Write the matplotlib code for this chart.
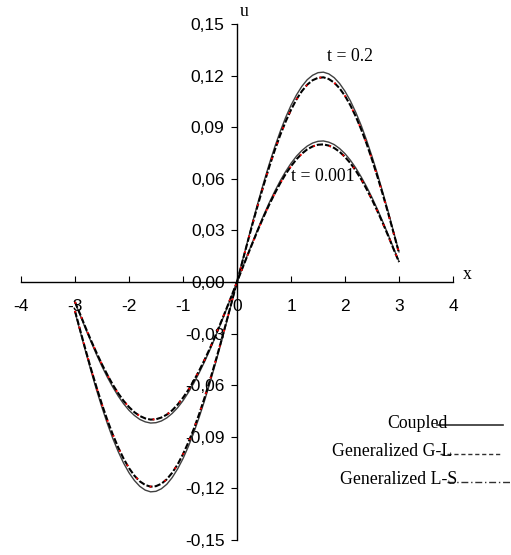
import numpy as np
import matplotlib.pyplot as plt
from matplotlib.lines import Line2D

# x grid (steps of 0.1 on [0, 3]); curves are odd in x
x_pos = [0.0, 0.1, 0.2, 0.3, 0.4, 0.5, 0.6, 0.7, 0.8, 0.9, 1.0,
         1.1, 1.2, 1.3, 1.4, 1.5, 1.6, 1.7, 1.8, 1.9, 2.0,
         2.1, 2.2, 2.3, 2.4, 2.5, 2.6, 2.7, 2.8, 2.9, 3.0]

coupled_t02 = [0.0, .0122, .0242, .0361, .0475, .0585, .0689, .0786, .0875, .0956, .1027,
               .1087, .1137, .1176, .1202, .1217, .1220, .1210, .1188, .1154, .1109,
               .1053, .0986, .0910, .0824, .0730, .0629, .0521, .0409, .0292, .0175]
general_t02 = [0.0, .0119, .0236, .0352, .0463, .0570, .0672, .0767, .0854, .0932, .1001,
               .1061, .1109, .1147, .1173, .1187, .1190, .1180, .1159, .1126, .1082,
               .1027, .0962, .0887, .0804, .0712, .0613, .0509, .0399, .0285, .0168]
coupled_t0001 = [0.0, .0082, .0163, .0242, .0319, .0393, .0463, .0528, .0588, .0642, .0690,
                 .0731, .0764, .0790, .0808, .0818, .0820, .0813, .0799, .0776, .0746,
                 .0708, .0663, .0611, .0554, .0491, .0423, .0350, .0275, .0196, .0120]
general_t0001 = [0.0, .0080, .0159, .0236, .0312, .0384, .0452, .0515, .0574, .0627, .0673,
                 .0713, .0746, .0771, .0788, .0798, .0800, .0793, .0779, .0757, .0727,
                 .0691, .0647, .0597, .0540, .0479, .0412, .0342, .0268, .0191, .0116]

x_ticks = [-4, -3, -2, -1, 0, 1, 2, 3, 4]
y_ticks = [-0.15, -0.12, -0.09, -0.06, -0.03, 0.0, 0.03, 0.06, 0.09, 0.12, 0.15]


def full(xs, us):
    # mirror the positive half (u is odd in x)
    xx = [-v for v in xs[:0:-1]] + list(xs)
    uu = [-v for v in us[:0:-1]] + list(us)
    return np.array(xx), np.array(uu)


W, H = 511, 555
fig = plt.figure(figsize=(W / 100, H / 100), dpi=100)
ax = fig.add_axes([21 / W, 1 - 540 / H, (453 - 21) / W, (540 - 24) / H])

serif = "Liberation Serif"
sans = "Liberation Sans"

for us_c, us_g in [(coupled_t02, general_t02), (coupled_t0001, general_t0001)]:
    xc, uc = full(x_pos, us_c)
    xg, ug = full(x_pos, us_g)
    ax.plot(xc, uc, color="#404040", lw=1.0)
    ax.plot(xg, ug, color="black", lw=1.5, linestyle=(0, (3, 1)))
    ax.plot(xg, ug, color="red", lw=1.3, linestyle=(0, (1, 8)))

ax.set_xlim(-4, 4)
ax.set_ylim(-0.15, 0.15)

for side in ["top", "right"]:
    ax.spines[side].set_visible(False)
ax.spines["left"].set_position(("data", 0))
ax.spines["bottom"].set_position(("data", 0))
ax.spines["left"].set_linewidth(1.0)
ax.spines["bottom"].set_linewidth(1.0)

ax.set_xticks(x_ticks)
ax.set_xticklabels([str(v) for v in x_ticks], fontfamily=sans, fontsize=12.5)
ax.set_yticks(y_ticks)
ax.set_yticklabels([f"{v:.2f}".replace(".", ",") for v in y_ticks],
                   fontfamily=sans, fontsize=12.5)
ax.tick_params(axis="x", direction="in", length=4, pad=12)
ax.tick_params(axis="y", direction="out", length=4, pad=5)

ax.text(2.1, 0.131, "t = 0.2", fontfamily=serif, fontsize=12.8, ha="center", va="center")
ax.text(1.58, 0.0614, "t = 0.001", fontfamily=serif, fontsize=12.8, ha="center", va="center")

fig.text(240 / W, 1 - 11 / H, "u", fontfamily=serif, fontsize=12.8, ha="left", va="center")
fig.text(463 / W, 1 - 274 / H, "x", fontfamily=serif, fontsize=12.8, ha="left", va="center")

# hand-drawn legend, lines run through the end of the text like the original
legend_rows = [
    ("Coupled", 448, 423, 437, 503, dict(color="#303030", lw=1.2)),
    ("Generalized G-L", 452, 452, 440, 500, dict(color="#303030", lw=1.0, linestyle=(0, (3, 2)))),
    ("Generalized L-S", 457, 480, 447, 510, dict(color="#303030", lw=1.0, linestyle=(0, (5, 2, 1, 2)))),
]
for label, tx, ty, x0, x1, style in legend_rows:
    fig.text(tx / W, 1 - ty / H, label, fontfamily=serif, fontsize=12.8, ha="right", va="center")
    fig.add_artist(Line2D([x0 / W, x1 / W], [1 - (ty + 2) / H, 1 - (ty + 2) / H],
                          transform=fig.transFigure, **style))

fig.savefig("out.png", dpi=100)
